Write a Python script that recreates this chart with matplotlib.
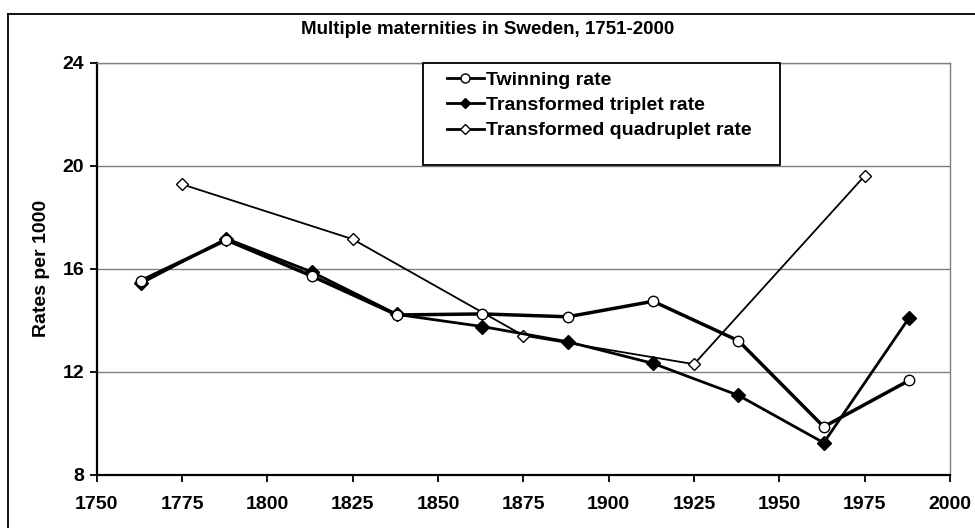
import matplotlib
matplotlib.use("Agg")
import matplotlib.pyplot as plt
from matplotlib.lines import Line2D
from matplotlib.patches import Rectangle

plt.rcParams["font.family"] = ["Liberation Sans", "DejaVu Sans"]
plt.rcParams["font.weight"] = "bold"

# 25-year periods (midpoints) and 50-year periods for quadruplets
years_25 = [1763, 1788, 1813, 1838, 1863, 1888, 1913, 1938, 1963, 1988]
twinning = [15.54, 17.12, 15.72, 14.21, 14.25, 14.14, 14.74, 13.21, 9.87, 11.67]
triplet = [15.44, 17.17, 15.88, 14.23, 13.76, 13.17, 12.33, 11.09, 9.25, 14.10]

years_50 = [1775, 1825, 1875, 1925, 1975]
quadruplet = [19.28, 17.15, 13.41, 12.30, 19.61]

xticks = list(range(1750, 2001, 25))
yticks = [8, 12, 16, 20, 24]

fs = 14

fig = plt.figure(figsize=(9.75, 5.28), dpi=100)
ax = fig.add_axes([0.0992, 0.1004, 0.8752, 0.7809])

for y in yticks[1:]:
    ax.axhline(y, color="#808080", lw=1.0, zorder=1)

ax.plot(years_50, quadruplet, color="black", lw=1.3, marker="D", ms=6.5,
        mfc="white", mec="black", mew=1.0, zorder=3)
ax.plot(years_25, triplet, color="black", lw=2.0, marker="D", ms=7,
        mfc="black", mec="black", zorder=4)
ax.plot(years_25, twinning, color="black", lw=2.5, marker="o", ms=7.5,
        mfc="white", mec="black", mew=1.0, zorder=5)

ax.set_xlim(1750, 2000)
ax.set_ylim(8, 24)
ax.set_xticks(xticks)
ax.set_yticks(yticks)
ax.tick_params(axis="both", direction="out", length=5, width=1.3,
               labelsize=fs, pad=4)
ax.tick_params(axis="x", pad=10)
for s in ["left", "bottom"]:
    ax.spines[s].set_color("black")
    ax.spines[s].set_linewidth(1.6)
for s in ["top", "right"]:
    ax.spines[s].set_color("#808080")
    ax.spines[s].set_linewidth(1.0)

ax.set_ylabel("Rates per 1000", fontsize=fs, fontweight="bold", labelpad=9)
fig.text(0.5, 0.945, "Multiple maternities in Sweden, 1751-2000",
         ha="center", va="center", fontsize=13.5, fontweight="bold")

# legend box (frame drawn separately, Excel-style uneven padding)
ax.add_patch(Rectangle((0.3824, 0.752), 0.4184, 0.248, transform=ax.transAxes,
                       facecolor="white", edgecolor="black", lw=1.3,
                       zorder=9, clip_on=False))
handles = [
    Line2D([], [], color="black", lw=2, marker="o", ms=6.5, mfc="white", mec="black"),
    Line2D([], [], color="black", lw=2, marker="D", ms=5.5, mfc="black", mec="black"),
    Line2D([], [], color="black", lw=2, marker="D", ms=5.5, mfc="white", mec="black"),
]
labels = ["Twinning rate", "Transformed triplet rate", "Transformed quadruplet rate"]
leg = ax.legend(handles, labels, loc="upper left",
                bbox_to_anchor=(0.4105, 0.980), frameon=False,
                borderaxespad=0, borderpad=0,
                fontsize=fs, handlelength=1.9, handletextpad=0.12,
                labelspacing=0.4)
leg.set_zorder(10)

# outer chart frame (left and top edges visible)
fig.add_artist(Line2D([8 / 975, 8 / 975], [0, 1 - 14 / 528], color="black", lw=1.3))
fig.add_artist(Line2D([8 / 975, 1], [1 - 14 / 528, 1 - 14 / 528], color="black", lw=1.3))

fig.savefig("out.png", dpi=100)
